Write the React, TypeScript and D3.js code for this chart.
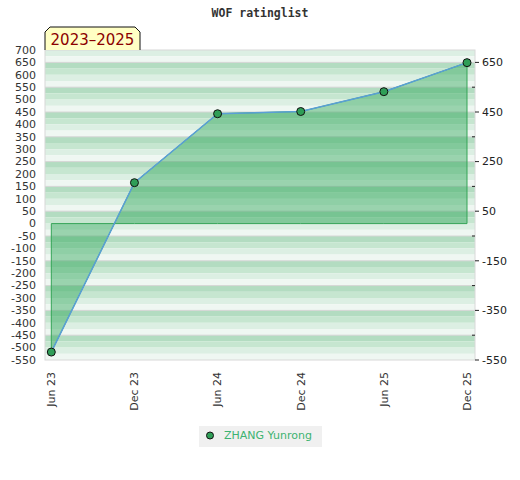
import React from "react";
import * as d3 from "d3";

const title = "WOF ratinglist";
const periodLabel = "2023–2025";
const seriesName = "ZHANG Yunrong";
const categories = ["Jun 23", "Dec 23", "Jun 24", "Dec 24", "Jun 25", "Dec 25"];
const ratings = [-518, 165, 443, 452, 532, 649];
const leftTicks = [700, 650, 600, 550, 500, 450, 400, 350, 300, 250, 200, 150, 100, 50, 0, -50, -100, -150, -200, -250, -300, -350, -400, -450, -500, -550];
const rightMajorTicks = [650, 450, 250, 50, -150, -350, -550];
const rightMinorTicks = [550, 350, 150, -50, -250, -450];
const yDomain = [-550, 700];

const W = 520;
const H = 480;
const plot = { left: 45, right: 475, top: 50, bottom: 360 };
const stripeColors = ["#b3dcc1", "#c6e6d0", "#dcefe3", "#eff7f2"];

export default function App() {
  const y = d3.scaleLinear().domain(yDomain).range([plot.bottom, plot.top]);
  const x = d3
    .scalePoint<string>()
    .domain(categories)
    .range([51.3, 467]);

  const pts = categories.map((c, i) => ({ c, v: ratings[i] }));

  const stripes: { y0: number; y1: number; fill: string }[] = [];
  for (let top = yDomain[1]; top > yDomain[0]; top -= 25) {
    const idx = ((((650 - top) / 25) % 4) + 4) % 4;
    stripes.push({ y0: y(top), y1: y(top - 25), fill: stripeColors[idx] });
  }
  const greyLines: number[] = [];
  for (let v = 650; v > yDomain[0]; v -= 100) greyLines.push(v);

  const area = d3
    .area<{ c: string; v: number }>()
    .x((d) => x(d.c) as number)
    .y0(y(0))
    .y1((d) => y(d.v));
  const line = d3
    .line<{ c: string; v: number }>()
    .x((d) => x(d.c) as number)
    .y((d) => y(d.v));

  const axisFont = "'DejaVu Sans', Verdana, sans-serif";

  const bx0 = 45, bx1 = 140, by0 = 27, by1 = 50, ch = 5;
  const boxPath = `M${bx0},${by1} L${bx0},${by0 + ch} L${bx0 + ch},${by0} L${bx1 - ch},${by0} L${bx1},${by0 + ch} L${bx1},${by1}`;

  return (
    <svg
      width={W}
      height={H}
      style={{ position: "absolute", left: 0, top: 0, background: "#fff" }}
    >
      <defs>
        <clipPath id="plotClip">
          <rect x={plot.left} y={plot.top} width={plot.right - plot.left} height={plot.bottom - plot.top} />
        </clipPath>
      </defs>
      <text
        x={260}
        y={17}
        textAnchor="middle"
        fontFamily="'DejaVu Sans Mono', monospace"
        fontWeight="bold"
        fontSize={11.5}
        fill="#333"
      >
        {title}
      </text>

      <g clipPath="url(#plotClip)">
        {stripes.map((s, i) => (
          <rect key={i} x={plot.left} y={s.y0} width={plot.right - plot.left} height={s.y1 - s.y0} fill={s.fill} />
        ))}
        {greyLines.map((v) => (
          <line key={v} x1={plot.left} x2={plot.right} y1={y(v)} y2={y(v)} stroke="#d6d6d6" strokeWidth={1} />
        ))}
        <path d={area(pts) || ""} fill="rgb(35,162,82)" fillOpacity={0.42} stroke="#34a457" strokeWidth={1} />
        <path d={line(pts) || ""} fill="none" stroke="#5a9fd6" strokeWidth={1.5} />
      </g>
      <rect
        x={plot.left}
        y={plot.top}
        width={plot.right - plot.left}
        height={plot.bottom - plot.top}
        fill="none"
        stroke="#d8d8d8"
        strokeWidth={1}
      />
      {pts.map((d) => (
        <circle key={d.c} cx={x(d.c)} cy={y(d.v)} r={4} fill="#2f9e57" stroke="#111" strokeWidth={1} />
      ))}

      {leftTicks.map((v) => (
        <text key={v} x={36} y={y(v)} dy="0.35em" textAnchor="end" fontFamily={axisFont} fontSize={11} fill="#333">
          {v}
        </text>
      ))}

      {rightMajorTicks.map((v) => (
        <g key={v}>
          <line x1={plot.right} x2={plot.right + 4} y1={y(v)} y2={y(v)} stroke="#222" strokeWidth={1} />
          <text x={482} y={y(v)} dy="0.35em" textAnchor="start" fontFamily={axisFont} fontSize={11} fill="#222">
            {v}
          </text>
        </g>
      ))}
      {rightMinorTicks.map((v) => (
        <line key={v} x1={plot.right - 3} x2={plot.right} y1={y(v)} y2={y(v)} stroke="#222" strokeWidth={1} />
      ))}

      {categories.map((c) => (
        <text
          key={c}
          transform={`translate(${x(c)},372) rotate(-90)`}
          dy="0.35em"
          textAnchor="end"
          fontFamily={axisFont}
          fontSize={11}
          fill="#333"
        >
          {c}
        </text>
      ))}

      <path d={boxPath + " Z"} fill="#ffffc4" stroke="none" />
      <path d={boxPath} fill="none" stroke="#111" strokeWidth={1} />
      <text x={92.5} y={44.5} textAnchor="middle" fontFamily={axisFont} fontSize={15} fill="#8b0000">
        {periodLabel}
      </text>

      <rect x={199} y={426} width={123} height={21} fill="#f0f0f0" />
      <circle cx={210} cy={435.5} r={3.5} fill="#2f9e57" stroke="#111" strokeWidth={1} />
      <text x={224} y={435.5} dy="0.35em" fontFamily={axisFont} fontSize={11} fill="#3cb371">
        {seriesName}
      </text>
    </svg>
  );
}
